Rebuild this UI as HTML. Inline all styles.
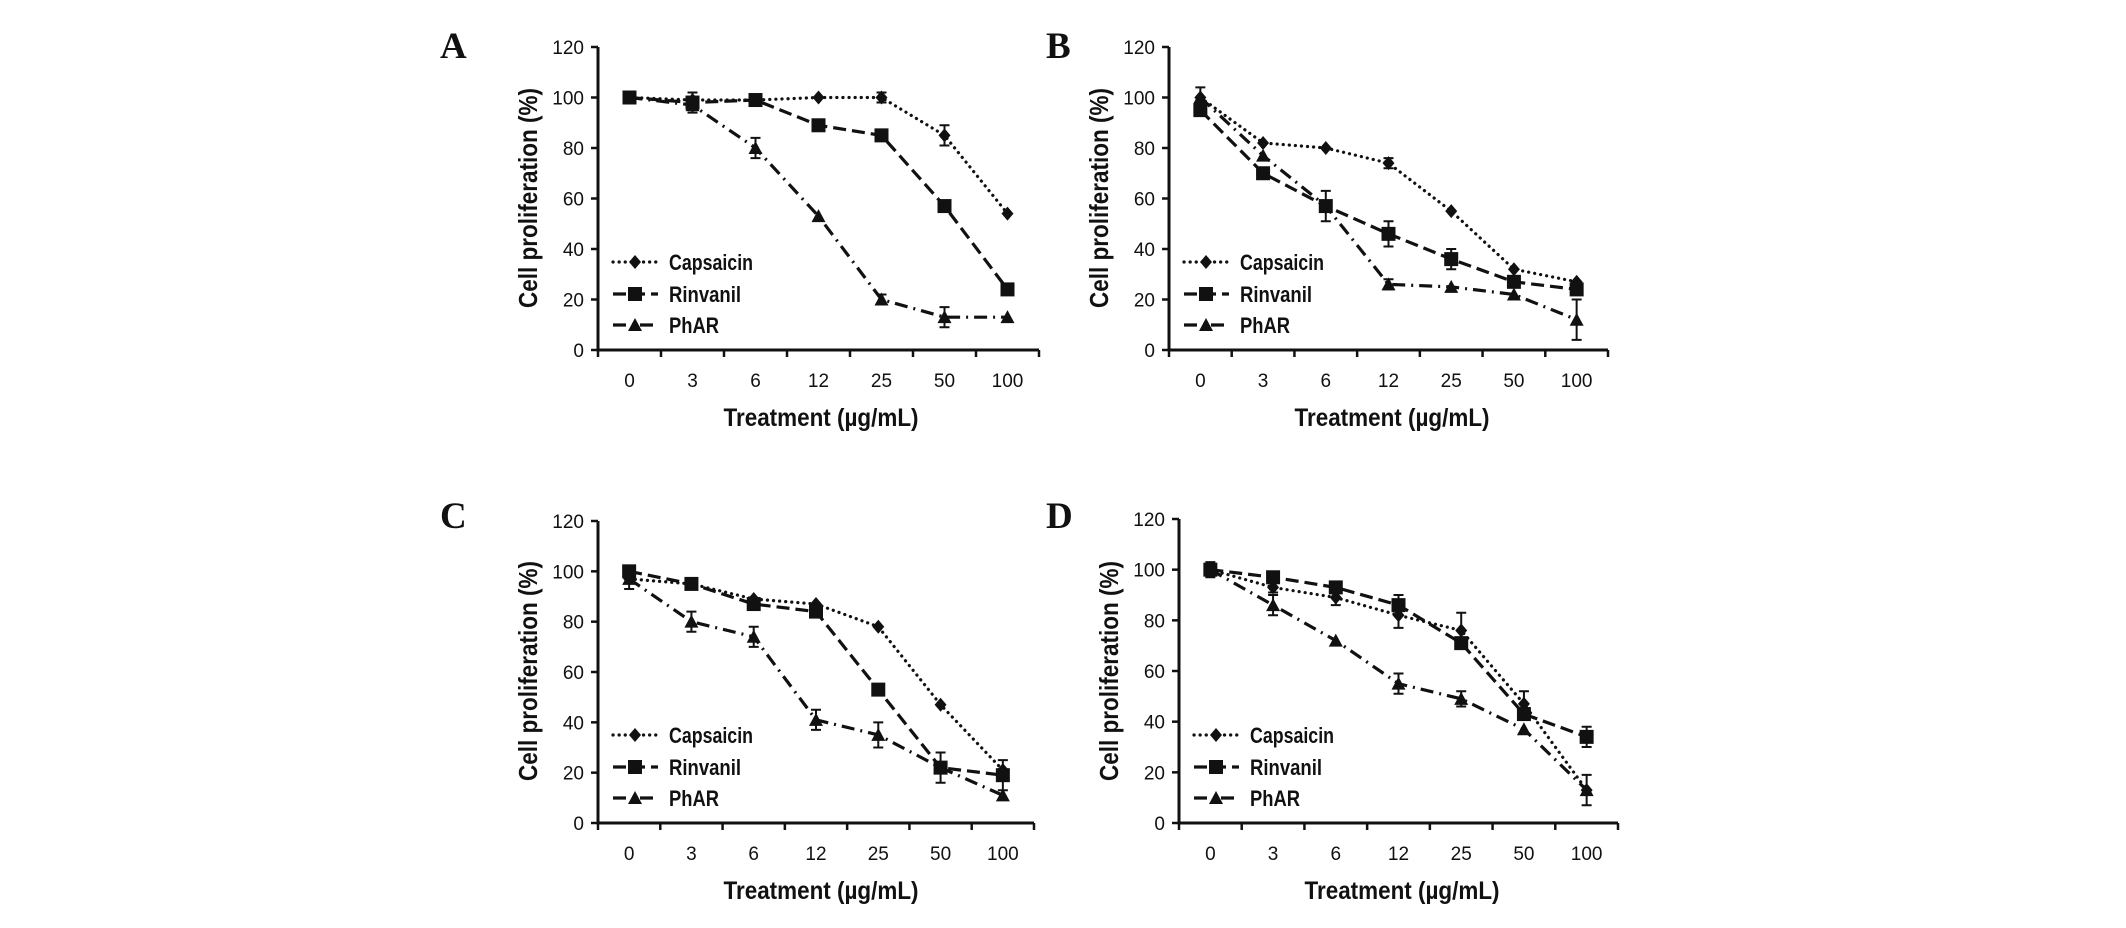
<!DOCTYPE html>
<html><head><meta charset="utf-8"><style>
html,body{margin:0;padding:0;background:#fff;overflow:hidden;}
svg{display:block;}
text{font-family:"Liberation Sans",Arial,sans-serif;fill:#111;}
</style></head><body>
<svg id="fig" width="2126" height="928" viewBox="0 0 2126 928"></svg>
<script>
const categories = ["0","3","6","12","25","50","100"];
const yTicks = [0,20,40,60,80,100,120];
const seriesNames = ["Capsaicin","Rinvanil","PhAR"];
const panelLetters = ["A","B","C","D"];
// Panel A
const capsA = [100,99,99,100,100,85,54];
const rinvA = [100,98,99,89,85,57,24];
const pharA = [100,97,80,53,20,13,13];
const capsAErr = [1,1,1,1,2,4,1];
const rinvAErr = [1,4,1,1,1,1,1];
const pharAErr = [1,2,4,1,2,4,1];
// Panel B
const capsB = [100,82,80,74,55,32,27];
const rinvB = [95,70,57,46,36,27,24];
const pharB = [100,77,57,26,25,22,12];
const capsBErr = [4,1,1,2,1,1,1];
const rinvBErr = [1,1,6,5,4,1,1];
const pharBErr = [1,1,1,2,1,1,8];
// Panel C
const capsC = [97,95,89,87,78,47,21];
const rinvC = [100,95,87,84,53,22,19];
const pharC = [97,80,74,41,35,22,11];
const capsCErr = [4,1,1,1,1,1,1];
const rinvCErr = [1,1,1,1,1,6,6];
const pharCErr = [1,4,4,4,5,1,1];
// Panel D
const capsD = [100,93,89,82,76,47,13];
const rinvD = [100,97,93,86,71,43,34];
const pharD = [100,86,72,55,49,37,13];
const capsDErr = [1,2,3,5,7,5,1];
const rinvDErr = [3,1,1,4,1,1,4];
const pharDErr = [1,4,1,4,3,1,6];

const NS = "http://www.w3.org/2000/svg";
const svg = document.getElementById("fig");
function mk(tag, attrs, parent){
  const e = document.createElementNS(NS, tag);
  for (const k in attrs) e.setAttribute(k, attrs[k]);
  (parent||svg).appendChild(e);
  return e;
}
const panels = [
  {x0:598, y0:350, w:441, h:303, lx:440, ly:58, data:[capsA,rinvA,pharA], err:[capsAErr,rinvAErr,pharAErr]},
  {x0:1169, y0:350, w:439, h:303, lx:1046, ly:58, data:[capsB,rinvB,pharB], err:[capsBErr,rinvBErr,pharBErr]},
  {x0:598, y0:823, w:436, h:302, lx:440, ly:528, data:[capsC,rinvC,pharC], err:[capsCErr,rinvCErr,pharCErr]},
  {x0:1179, y0:823, w:439, h:304, lx:1046, ly:528, data:[capsD,rinvD,pharD], err:[capsDErr,rinvDErr,pharDErr]}
];
const dashes = ["0.1 6","13 6","13 6 2 6"];

function marker(g, kind, x, y){
  let m;
  if (kind===0) m = mk("polygon",{points:`${x},${y-7} ${x+6},${y} ${x},${y+7} ${x-6},${y}`,fill:"#111"},g);
  else if (kind===1) m = mk("rect",{x:x-7,y:y-7,width:14,height:14,fill:"#111"},g);
  else m = mk("polygon",{points:`${x},${y-7} ${x+7},${y+6} ${x-7},${y+6}`,fill:"#111"},g);
  return m;
}

panels.forEach((p, pi) => {
  const g = mk("g", {});
  
  
  const step = p.w / categories.length;
  const xs = i => p.x0 + step * (i + 0.5);
  const ys = v => p.y0 - v / 120 * p.h;

  const letter = mk("text",{x:p.lx,y:p.ly,"font-size":37,"font-weight":"bold",style:"font-family:'Liberation Serif',serif"},g);
  letter.textContent = panelLetters[pi];
  
  

  const ax = mk("path",{d:`M${p.x0},${ys(120)} L${p.x0},${p.y0} L${p.x0+p.w},${p.y0}`,stroke:"#111","stroke-width":3,fill:"none"},g);
  
  
  yTicks.forEach(t => {
    mk("line",{x1:p.x0-7,x2:p.x0,y1:ys(t),y2:ys(t),stroke:"#111","stroke-width":2.5},g);
    const tl = mk("text",{x:p.x0-14,y:ys(t)+7,"font-size":19,"text-anchor":"end"},g);
    tl.textContent = t;
    
    
  });
  for (let i=0;i<=categories.length;i++){
    const x = p.x0 + step*i;
    mk("line",{x1:x,x2:x,y1:p.y0,y2:p.y0+7,stroke:"#111","stroke-width":2.5},g);
  }
  categories.forEach((c,i) => {
    const tl = mk("text",{x:xs(i),y:p.y0+37,"font-size":19,"text-anchor":"middle"},g);
    tl.textContent = c;
    
    
  });
  const xt = mk("text",{x:p.x0+223,y:p.y0+76,"font-size":25,"font-weight":"bold","text-anchor":"middle",textLength:195,lengthAdjust:"spacingAndGlyphs"},g);
  xt.textContent = "Treatment (µg/mL)";
  
  
  const cy = p.y0 - 152;
  const tx = p.x0 - 61;
  const yt = mk("text",{x:tx,y:cy,"font-size":26,"font-weight":"bold","text-anchor":"middle",transform:`rotate(-90 ${tx} ${cy})`,textLength:220,lengthAdjust:"spacingAndGlyphs"},g);
  yt.textContent = "Cell proliferation (%)";
  
  

  p.data.forEach((vals, si) => {
    const sg = mk("g",{},g);
    
    
    const d = vals.map((v,i)=>(i?"L":"M")+xs(i)+","+ys(v)).join(" ");
    mk("path",{d:d,fill:"none",stroke:"#111","stroke-width":3.2,"stroke-dasharray":dashes[si],"stroke-linecap":si===0?"round":"butt"},sg);
    vals.forEach((v,i) => {
      const e = p.err[si][i];
      if (e > 1) {
        mk("path",{d:`M${xs(i)},${ys(v+e)} L${xs(i)},${ys(v-e)} M${xs(i)-5},${ys(v+e)} L${xs(i)+5},${ys(v+e)} M${xs(i)-5},${ys(v-e)} L${xs(i)+5},${ys(v-e)}`,stroke:"#111","stroke-width":2,fill:"none"},sg);
      }
      const m = marker(sg, si, xs(i), ys(v));
      
      
    });
  });

  const lg = mk("g",{},g);
  
  
  const rows = [-88,-56,-25];
  seriesNames.forEach((n,si) => {
    const y = p.y0 + rows[si];
    const e = mk("g",{},lg);
    
    
    mk("line",{x1:p.x0+15,x2:p.x0+60,y1:y,y2:y,stroke:"#111","stroke-width":3.2,"stroke-dasharray":dashes[si],"stroke-linecap":si===0?"round":"butt"},e);
    marker(e, si, p.x0+37, y);
    const t = mk("text",{x:p.x0+71,y:y+8,"font-size":22,"font-weight":"bold"},e);
    if (n==="Capsaicin") t.setAttribute("textLength",84);
    else if (n==="Rinvanil") t.setAttribute("textLength",72);
    else t.setAttribute("textLength",50);
    t.setAttribute("lengthAdjust","spacingAndGlyphs");
    t.textContent = n;
  });
});
</script>
</body></html>
